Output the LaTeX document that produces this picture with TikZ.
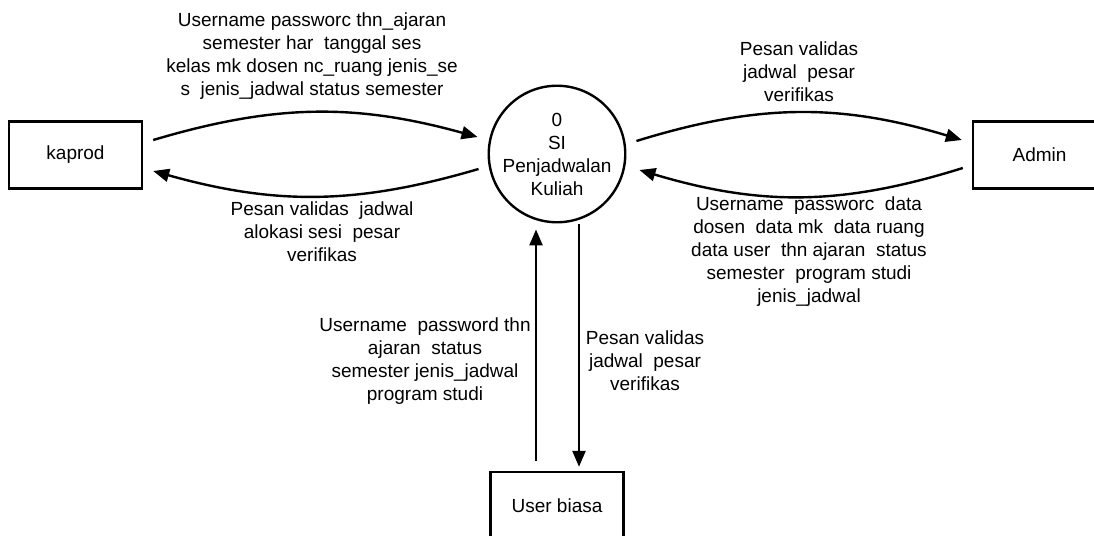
\documentclass[tikz,border=0pt]{standalone}
\usepackage{fontspec}
\setmainfont{Liberation Sans}
\usetikzlibrary{arrows.meta,calc}
\begin{document}
\begin{tikzpicture}[x=1pt,y=-1pt,
  ent/.style={draw, line width=2.4pt, minimum width=133pt, minimum height=67pt, inner sep=0pt, font=\fontsize{19}{23}\selectfont},
  proc/.style={draw, circle, line width=2.4pt, minimum size=130pt, inner sep=0pt, align=center, font=\fontsize{19}{23}\selectfont},
  lbl/.style={align=center, inner sep=0pt, font=\fontsize{19}{23}\selectfont},
  flow/.style={line width=2.4pt, -{Triangle[length=16pt,width=13pt]}}]
\clip (0,0) rectangle (1094,535);
\fill[white] (0,0) rectangle (1094,535);
% entities and process
\node[ent] (kaprod) at (75.5,155) {kaprod};
\node[ent] (admin) at (1039.5,155) {Admin};
\node[ent] (user) at (557,505.5) {User biasa};
\node[proc] (proc) at (557,154) {0\\SI\\Penjadwalan\\Kuliah};
% flows
\draw[flow] ($(kaprod.east)+(10,-15)$) to[bend left=16] ($(proc.west)+(-10,-17)$);
\draw[flow] ($(proc.west)+(-9,15)$) to[bend left=16] ($(kaprod.east)+(10,16)$);
\draw[flow] ($(proc.east)+(10,-13)$) to[bend left=17] ($(admin.west)+(-10,-15)$);
\draw[flow] ($(admin.west)+(-9,13)$) to[bend left=17] ($(proc.east)+(13,16)$);
\draw[flow] ($(user.north)+(-21,-10)$) -- ($(proc.south)+(-21,6)$);
\draw[flow] ($(proc.south)+(22,1)$) -- ($(user.north)+(22,-4)$);
% labels
\node[lbl] (l1) at (312,56) {Username passworc thn\_ajaran\\semester har~ tanggal ses\\kelas mk dosen nc\_ruang jenis\_se\\s~ jenis\_jadwal status semester};
\node[lbl] (l2) at (322,232) {Pesan validas~ jadwal\\alokasi sesi~ pesar\\verifikas};
\node[lbl] (l3) at (799,72) {Pesan validas\\jadwal~ pesar\\verifikas};
\node[lbl] (l4) at (809,252) {Username~ passworc~ data\\dosen~ data mk~ data ruang\\data user~ thn ajaran~ status\\semester~ program studi\\jenis\_jadwal};
\node[lbl] (l5) at (425,361) {Username~ password thn\\ajaran~ status\\semester jenis\_jadwal\\program studi};
\node[lbl] (l6) at (645,361) {Pesan validas\\jadwal~ pesar\\verifikas};
\end{tikzpicture}
\end{document}
